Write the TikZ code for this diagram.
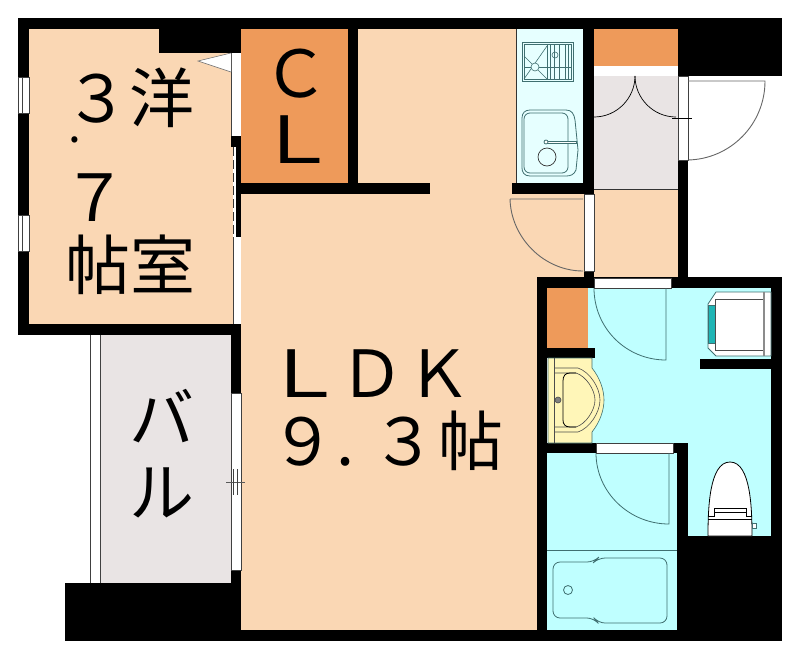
\documentclass[tikz,border=0pt]{standalone}
\usepackage{fontspec}
\newfontfamily\cjk{Noto Sans CJK JP}
\newcommand{\wideL}{\makebox[65pt]{\scalebox{1.28}[1]{Ｌ}}}
\definecolor{floorpeach}{HTML}{FAD7B4}
\definecolor{closetorange}{HTML}{EE9A5A}
\definecolor{wetcyan}{HTML}{BFFFFF}
\definecolor{kitchencyan}{HTML}{E6FFFF}
\definecolor{outgrey}{HTML}{E9E4E4}
\definecolor{basinyellow}{HTML}{FFF6B8}
\definecolor{panteal}{HTML}{1FB5B5}
\definecolor{fixline}{HTML}{3F6F70}
\tikzstyle{wall}=[fill=black]
\tikzstyle{room}=[draw=none]
\tikzstyle{opening}=[fill=white, draw=black!75, line width=0.6pt]
\tikzstyle{swing}=[draw=black!60, line width=0.9pt]
\tikzstyle{fixture}=[draw=fixline, line width=0.8pt]
\tikzstyle{label}=[inner sep=0, outer sep=0, anchor=base, font=\cjk\fontsize{65}{65}\selectfont]
\begin{document}
\begin{tikzpicture}[x=1pt, y=-1pt]
        \useasboundingbox (0, 0) rectangle (800, 659);
        % floors
        \fill[room, floorpeach] (29, 29) rectangle (233, 324);
        \fill[room, floorpeach] (358, 29) rectangle (516, 183);
        \fill[room, floorpeach] (241, 183) rectangle (537, 630);
        \fill[room, floorpeach] (537, 194) rectangle (584, 277);
        \fill[room, floorpeach] (594, 189) rectangle (678, 277);
        \fill[room, closetorange] (241, 29) rectangle (348, 183);
        \fill[room, closetorange] (594, 29) rectangle (678, 66);
        \fill[room, closetorange] (547, 288) rectangle (588, 348);
        \fill[room, kitchencyan] (516, 29) rectangle (583, 183);
        \fill[room, outgrey] (594, 76) rectangle (678, 189);
        \fill[room, outgrey] (100, 335) rectangle (231, 583);
        \fill[room, wetcyan] (588, 288) rectangle (771, 443);
        \fill[room, wetcyan] (688, 443) rectangle (771, 536);
        \fill[room, wetcyan] (547, 453) rectangle (677, 630);
        \draw[black!80, line width=0.6pt] (594, 189) -- (678, 189);
        \draw[black!80, line width=0.6pt] (516, 29) -- (516, 183);
        \draw[fixline, line width=0.8pt] (547, 550) -- (677, 550);
        \draw[black!75, line width=0.6pt] (90, 335) -- (90, 583) (100, 335) -- (100, 583);
        % walls
        \fill[wall] (18, 18) rectangle (782, 29);
        \fill[wall] (18, 18) rectangle (29, 335);
        \fill[wall] (18, 324) rectangle (241, 335);
        \fill[wall] (159, 29) rectangle (241, 53);
        \fill[wall] (231, 136) rectangle (241, 147);
        \fill[wall] (236, 147) rectangle (241, 237);
        \fill[wall] (231, 324) rectangle (241, 393);
        \fill[wall] (231, 570) rectangle (241, 641);
        \fill[wall] (65, 583) rectangle (241, 641);
        \fill[wall] (65, 630) rectangle (782, 641);
        \fill[wall] (348, 29) rectangle (358, 194);
        \fill[wall] (241, 183) rectangle (430, 194);
        \fill[wall] (512, 183) rectangle (594, 194);
        \fill[wall] (583, 29) rectangle (594, 194);
        \fill[wall] (678, 18) rectangle (782, 76);
        \fill[wall] (678, 160) rectangle (688, 288);
        \fill[wall] (537, 277) rectangle (782, 288);
        \fill[wall] (584, 271) rectangle (594, 288);
        \fill[wall] (537, 277) rectangle (547, 641);
        \fill[wall] (771, 277) rectangle (782, 641);
        \fill[wall] (547, 348) rectangle (595, 358);
        \fill[wall] (547, 443) rectangle (596, 453);
        \fill[wall] (673, 443) rectangle (688, 453);
        \fill[wall] (677, 443) rectangle (688, 641);
        \fill[wall] (677, 536) rectangle (782, 641);
        \fill[wall] (700, 359) rectangle (771, 369);
        % openings
        \fill[white] (231, 53) rectangle (241, 136);
        \draw[opening] (231, 53) -- (231, 136);
        \fill[white] (233, 147) rectangle (236, 237);
        \draw[black!80, line width=0.7pt, dash pattern=on 9pt off 4pt] (233.5, 147) -- (233.5, 237);
        \fill[white] (233, 237) rectangle (241, 324);
        \draw[black!75, line width=0.6pt] (233, 237) -- (233, 324);
        \foreach \y in {77, 215} {
            \draw[opening] (18, \y) rectangle (29, \y+36);
            \draw[black!75, line width=0.6pt] (22, \y) -- (22, \y+36);
        }
        \draw[opening] (231, 393) rectangle (241, 570);
        \draw[opening, draw=none] (594, 66) rectangle (678, 76);
        \draw[opening] (678, 76) rectangle (688, 160);
        \draw[opening] (584, 194) rectangle (594, 271);
        \draw[opening] (594, 278) rectangle (671, 288);
        \draw[opening] (596, 443) rectangle (673, 453);
        % door leaves
        \fill[white, draw=black!60, line width=0.5pt] (231, 53) -- (198, 61) -- (231, 72);
        \draw[swing] (510, 199) -- (583, 199) (510, 199) .. controls (511, 238) and (544, 271) .. (583, 271);
        \draw[black, line width=0.7pt] (635, 76) .. controls (635, 98) and (617, 117) .. (594, 117);
        \draw[black, line width=0.7pt] (635, 76) .. controls (635, 98) and (653, 117) .. (676, 117);
        \draw[black, line width=0.7pt] (672, 118) -- (692, 118);
        \draw[swing] (688, 81) -- (765, 81) .. controls (765, 124) and (731, 159) .. (688, 160);
        \draw[fixture] (594, 288) .. controls (594, 328) and (626, 360) .. (666, 360) -- (666, 288);
        \draw[fixture] (596, 453) .. controls (596, 492) and (629, 524) .. (669, 524) -- (669, 453);
        \draw[black!65, line width=0.7pt] (226, 482) -- (245, 482);
        \draw[black!75, line width=0.6pt] (233, 469) -- (233, 495) (237, 469) -- (237, 495);
        % stove
        \draw[fixture, line width=1pt] (522, 42) rectangle (573, 81);
        \draw[fixture, line width=0.6pt] (524, 44) rectangle (571, 79);
        \draw[fixture, line width=0.6pt] (524, 56) -- (547, 79) (547, 46) -- (524, 79);
        \draw[fixture, line width=0.6pt] (524, 67) -- (571, 67);
        \draw[fixture, line width=0.6pt, fill=kitchencyan] (535, 67) circle[radius=4];
        \foreach \x in {547, 550, 554, 559, 565, 568}
            \draw[fixture, line width=0.6pt] (\x, 44) -- (\x, 79);
        \draw[fixture, line width=0.6pt] (555, 55) circle[radius=3];
        % sink
        \draw[fixture] (530, 110) -- (566, 110) .. controls (572, 110) and (574, 114) .. (575, 120)
            -- (578, 150) -- (576, 170) .. controls (574, 175) and (570, 176) .. (566, 176)
            -- (530, 176) .. controls (524, 176) and (522, 172) .. (522, 168) -- (522, 118)
            .. controls (522, 113) and (525, 110) .. (530, 110);
        \draw[fixture, rounded corners=6pt] (524, 113) rectangle (568, 173);
        \draw[fixture, fill=white] (546, 141) rectangle (576, 143.5);
        \draw[fixture, fill=white] (546, 142) circle[radius=2];
        \draw[black!80, line width=0.7pt] (547, 157) circle[radius=9];
        % basin
        \fill[basinyellow, draw=fixline, line width=0.6pt] (548, 358) -- (592, 358) -- (592, 368)
            .. controls (600, 378) and (604, 390) .. (604, 400)
            .. controls (604, 410) and (600, 422) .. (592, 432) -- (592, 443) -- (548, 443) -- cycle;
        \draw[black!70, line width=0.6pt] (554, 358) -- (554, 443);
        \draw[black!70, line width=0.6pt] (554, 368) -- (578, 368) .. controls (590, 372) and (600, 388) .. (600, 400)
            .. controls (600, 412) and (590, 428) .. (578, 432) -- (554, 432);
        \draw[black!70, line width=0.6pt] (554, 373) -- (576, 373) .. controls (586, 376) and (595, 390) .. (595, 400)
            .. controls (595, 410) and (586, 424) .. (576, 427) -- (554, 427);
        \draw[black, line width=0.8pt] (576, 373) -- (570, 373) .. controls (565, 373) and (563, 376) .. (563, 381) -- (563, 420)
            .. controls (563, 424) and (565, 427) .. (570, 427) -- (576, 427);
        \draw[black!70, fill=black!50, line width=0.6pt] (558, 400) circle[radius=3];
        % washer pan
        \fill[white, draw=fixline, line width=0.8pt] (708, 304) -- (716, 292) -- (771, 292) -- (771, 356) -- (716, 356) -- (708, 348) -- cycle;
        \fill[panteal, draw=fixline, line width=0.6pt] (708, 305) rectangle (715, 343);
        \draw[black!70, line width=0.8pt] (715, 299) rectangle (764, 350);
        \fill[black!45] (763, 292) rectangle (765, 356);
        % toilet
        \fill[white, draw=black, line width=0.8pt] (708, 536) .. controls (708, 510) and (709, 462) .. (730, 462)
            .. controls (751, 462) and (752, 510) .. (752, 536) -- cycle;
        \draw[black, line width=0.7pt] (708, 516) -- (714, 516) -- (714, 508) -- (746, 508) -- (746, 516) -- (752, 516);
        \draw[black, line width=0.7pt] (708, 519) -- (752, 519) (714, 512) -- (746, 512);
        \draw[fixline, fill=white, line width=0.6pt] (752, 523) rectangle (756, 528);
        % bath
        \draw[fixture, rounded corners=7pt] (553, 562) -- (594, 562) -- (598, 558) -- (667, 558) -- (667, 623) -- (598, 623) -- (594, 618) -- (553, 618) -- cycle;
        \draw[fixture] (568, 590) circle[radius=4.5];
        % labels
        \node[label] (bedA) at (129, 122) {３洋};
        \node[label, font=\cjk\fontsize{46}{46}\selectfont] (bedB) at (75, 142) {.};
        \node[label] (bedC) at (95, 221) {７};
        \node[label] (bedD) at (130, 289) {帖室};
        \node[label] (closetA) at (296, 97) {Ｃ};
        \node[label] (closetB) at (297, 163) {\wideL};
        \node[label] (balconyA) at (162, 442) {バ};
        \node[label] (balconyB) at (162, 516) {ル};
        \node[label] (ldkA) at (372, 397) {\wideL\hspace{2pt}Ｄ\hspace{3pt}Ｋ};
        \node[label] (ldkB) at (387, 465) {９\hspace{1pt}.\hspace{17pt}３\hspace{2pt}帖};
    \end{tikzpicture}
\end{document}
